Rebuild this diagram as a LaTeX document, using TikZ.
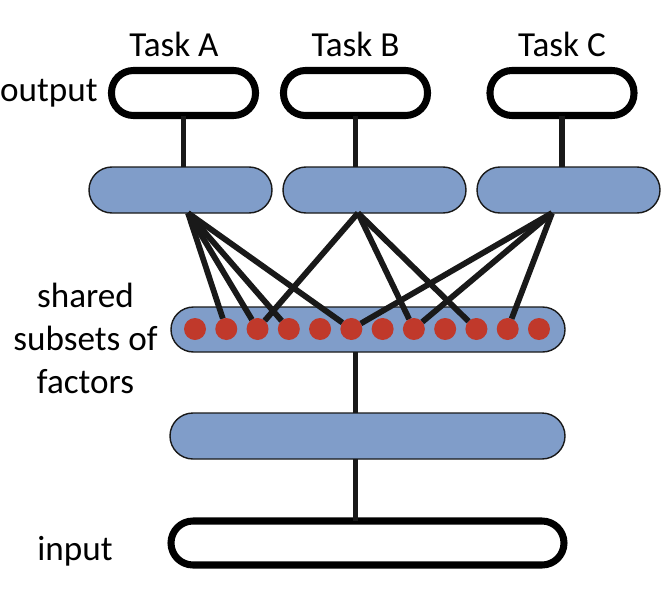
\documentclass[tikz,border=0pt]{standalone}
\usepackage{fontspec}
\setmainfont{Carlito}
\usetikzlibrary{positioning,calc}

\definecolor{layerblue}{RGB}{128,157,201}
\definecolor{factorred}{RGB}{192,57,43}

\tikzset{
  iobox/.style={draw=black, line width=4pt, fill=white, rounded corners=0.44cm,
    minimum width=2.88cm, minimum height=0.9cm, inner sep=0, outer sep=0},
  hidden/.style={draw=black!90, line width=0.8pt, fill=layerblue, rounded corners=0.46cm,
    minimum width=3.66cm, minimum height=0.92cm, inner sep=0, outer sep=0},
  factor/.style={circle, fill=factorred, minimum size=0.44cm, inner sep=0, outer sep=0},
  link/.style={line width=3.3pt, black!90},
  lbl/.style={inner sep=0, font=\fontsize{20}{24.5}\selectfont}
}

\begin{document}
\begin{tikzpicture}
\useasboundingbox (0,0) rectangle (13.22,-12.18);

% task outputs
\node[iobox] (outA) at (3.67,-1.86) {};
\node[iobox] (outB) at (7.11,-1.86) {};
\node[iobox] (outC) at (11.24,-1.86) {};
\node[lbl, above=0.27cm of outA, xshift=-0.19cm] (taskA) {Task A};
\node[lbl, above=0.27cm of outB] (taskB) {Task B};
\node[lbl, above=0.27cm of outC] (taskC) {Task C};
\node[lbl, left=0.27cm of outA] (outlbl) {output};

% task specific layers
\node[hidden] (midA) at (3.61,-3.8) {};
\node[hidden] (midB) at (7.49,-3.8) {};
\node[hidden] (midC) at (11.37,-3.8) {};

% shared layers and input
\node[hidden, minimum width=7.88cm, minimum height=0.9cm, rounded corners=0.45cm] (bar) at (7.36,-6.59) {};
\node[hidden, minimum width=7.9cm] (low) at (7.35,-8.72) {};
\node[iobox, minimum width=7.86cm, minimum height=0.88cm] (inp) at (7.35,-10.86) {};
\node[lbl, left=0.26cm of bar, yshift=-0.18cm, align=center] (sharedlbl) {shared\\subsets of\\factors};
\node[lbl, left=1.16cm of inp, yshift=-0.16cm] (inplbl) {input};

\draw[link] (outA.south) -- (outA.south |- midA.north);
\draw[link] (outB.south) -- (outB.south |- midB.north);
\draw[link] (outC.south) -- (outC.south |- midC.north);
\draw[link] (bar.south -| outB) -- (low.north -| outB);
\draw[link] (low.south -| outB) -- (inp.north -| outB);

% factors
\foreach \i in {1,...,12}
  \node[factor] (d\i) at ({3.9+0.6254*(\i-1)},-6.58) {};

\coordinate (srcA) at ($(midA.south)+(0.15,0)$);
\coordinate (srcB) at ($(midB.south)+(-0.33,0)$);
\coordinate (srcC) at ($(midC.south)+(-0.33,0)$);
\foreach \d in {2,3,4,6} \draw[link] (srcA) -- (d\d);
\foreach \d in {3,8,10} \draw[link] (srcB) -- (d\d);
\foreach \d in {6,8,11} \draw[link] (srcC) -- (d\d);
\end{tikzpicture}
\end{document}
